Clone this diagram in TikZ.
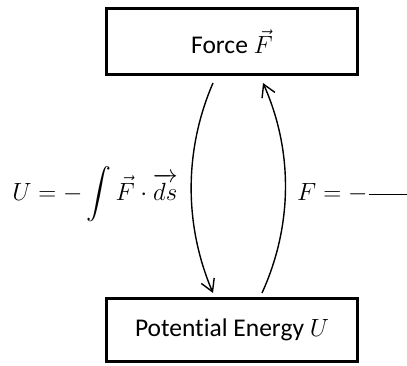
\documentclass[tikz,border=0pt]{standalone}
\usepackage{amsmath}
\usepackage{exscale}
\usepackage{fontspec}
\setmainfont{Carlito}[Ligatures=NoCommon]
\usetikzlibrary{arrows.meta}
\begin{document}
\begin{tikzpicture}[x=1pt,y=-1pt,
  box/.style={draw=black,line width=3pt,minimum width=251pt,inner sep=0pt,font=\fontsize{25.5}{30}\selectfont},
  conn/.style={line width=1.4pt,-{Straight Barb[length=12pt,width=14pt,line width=1.4pt]}},
  formula/.style={inner sep=0pt,font=\fontsize{25}{30}\selectfont}]
\useasboundingbox (0,0) rectangle (407,366);
\node[box,minimum height=66pt] (force) at (232,41.5) {Force $\vec{F}$};
\node[box,minimum height=63pt] (pot) at (232,330) {Potential Energy $U$};
\coordinate (a1) at ([xshift=-19pt,yshift=-7pt]force.south);
\coordinate (a2) at ([xshift=-19pt,yshift=4pt]pot.north);
\coordinate (b1) at ([xshift=30pt,yshift=4pt]pot.north);
\coordinate (b2) at ([xshift=31pt,yshift=-7pt]force.south);
\draw[conn] (a1) .. controls (184,150) and (184,225) .. (a2);
\draw[conn] (b1) .. controls (293,225) and (293,150) .. (b2);
\node[formula] (lf) at (95,194) {$\displaystyle U = -\int \vec{F}\cdot\overrightarrow{ds}$};
\node[formula,anchor=west] (rf) at (297,192) {$\displaystyle F = -\frac{\phantom{dUUU}}{\phantom{dx}}$};
\end{tikzpicture}
\end{document}
